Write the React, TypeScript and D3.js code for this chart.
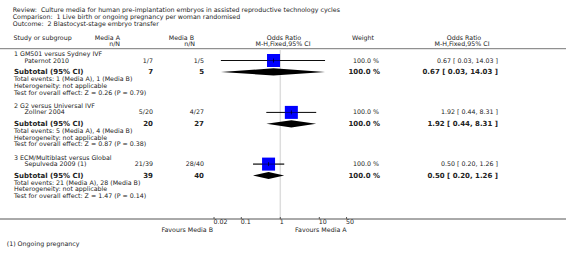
import React from "react";
import * as d3 from "d3";

const headerLines = [
  "Review:  Culture media for human pre-implantation embryos in assisted reproductive technology cycles",
  "Comparison:  1 Live birth or ongoing pregnancy per woman randomised",
  "Outcome:  2 Blastocyst-stage embryo transfer",
];
const groups = ["1 GM501 versus Sydney IVF", "2 G2 versus Universal IVF", "3 ECM/Multiblast versus Global"];
const studies = ["Paternot 2010", "Zollner 2004", "Sepulveda 2009 (1)"];
const eventsA = [1, 5, 21];
const totalA = [7, 20, 39];
const eventsB = [1, 4, 28];
const totalB = [5, 27, 40];
const oddsRatio = [0.67, 1.92, 0.5];
const ciLow = [0.03, 0.44, 0.2];
const ciHigh = [14.03, 8.31, 1.26];
const weights = [100, 100, 100];
const zValues = [0.26, 0.87, 1.47];
const pValues = [0.79, 0.38, 0.14];
const tickValues = [0.02, 0.1, 1, 10, 50];
const tickLabels = ["0.02", "0.1", "1", "10", "50"];
const footnotes = ["(1) Ongoing pregnancy"];

const FONT = "DejaVu Sans, Verdana, sans-serif";
const TXT = "#222";
const FS = 6.3;
const FB = 7.0;

export default function App() {
  const x = d3.scaleLog().domain([0.01, 100]).range([202.3, 358.3]);
  const groupY = [54.3, 106.2, 157.9];
  const xA = 153;
  const xB = 204;
  const xW = 379;
  const xOR = 498;
  const axisY = 219;

  const fmt = (v: number) => v.toFixed(2);

  return (
    <svg width={566} height={261} style={{ position: "absolute", left: 0, top: 0, background: "#fff" }}
      fontFamily={FONT}>
      {headerLines.map((t, i) => (
        <text key={i} x={12.7} y={12 + i * 7} fontSize={FS} fill={TXT} style={{ whiteSpace: "pre" }}>{t}</text>
      ))}
      <text x={13.5} y={40} fontSize={FS} fill={TXT}>Study or subgroup</text>
      <text x={120} y={40} fontSize={FS} fill={TXT} textAnchor="end">Media A</text>
      <text x={120} y={45.7} fontSize={FS} fill={TXT} textAnchor="end">n/N</text>
      <text x={194} y={40} fontSize={FS} fill={TXT} textAnchor="end">Media B</text>
      <text x={195} y={45.7} fontSize={FS} fill={TXT} textAnchor="end">n/N</text>
      <text x={284} y={40} fontSize={FS} fill={TXT} textAnchor="middle">Odds Ratio</text>
      <text x={283} y={45.7} fontSize={FS} fill={TXT} textAnchor="middle">M-H,Fixed,95% CI</text>
      <text x={363} y={40} fontSize={FS} fill={TXT} textAnchor="middle">Weight</text>
      <text x={464} y={40} fontSize={FS} fill={TXT} textAnchor="middle">Odds Ratio</text>
      <text x={462} y={45.7} fontSize={FS} fill={TXT} textAnchor="middle">M-H,Fixed,95% CI</text>
      <line x1={0} x2={566} y1={48.7} y2={48.7} stroke="#777" strokeWidth={1} />

      {/* null line */}
      <line x1={x(1)} x2={x(1)} y1={50} y2={axisY} stroke="#ddd" strokeWidth={1.5} />

      {groups.map((g, i) => {
        const y0 = groupY[i];
        const yStudy = y0 + 6.2;
        const ySub = y0 + 17.6;
        const yTot = y0 + 24.6;
        const yHet = y0 + 31.5;
        const yTest = y0 + 38.2;
        const cx = x(oddsRatio[i]);
        const lo = x(ciLow[i]);
        const hi = x(ciHigh[i]);
        const sq = 13;
        const orStr = `${fmt(oddsRatio[i])} [ ${fmt(ciLow[i])}, ${fmt(ciHigh[i])} ]`;
        return (
          <g key={i}>
            <text x={14} y={y0 + 2} fontSize={FS} fill={TXT}>{g}</text>
            <text x={24.5} y={yStudy + 2} fontSize={FS} fill={TXT}>{studies[i]}</text>
            <text x={xA} y={yStudy + 2} fontSize={FS} fill={TXT} textAnchor="end">{`${eventsA[i]}/${totalA[i]}`}</text>
            <text x={xB} y={yStudy + 2} fontSize={FS} fill={TXT} textAnchor="end">{`${eventsB[i]}/${totalB[i]}`}</text>
            <text x={xW} y={yStudy + 2} fontSize={FS} fill={TXT} textAnchor="end">{`${weights[i].toFixed(1)} %`}</text>
            <text x={xOR} y={yStudy + 2} fontSize={FS} fill={TXT} textAnchor="end">{orStr}</text>
            <line x1={lo} x2={hi} y1={yStudy} y2={yStudy} stroke="#000" strokeWidth={0.9} />
            <rect x={cx - sq / 2} y={yStudy - sq / 2} width={sq} height={sq} fill="#0000ff" />
            <line x1={lo} x2={hi} y1={yStudy} y2={yStudy} stroke="#000" strokeWidth={0.6} opacity={0.8} />
            <line x1={cx} x2={cx} y1={yStudy - 2} y2={yStudy + 2} stroke="#000" strokeWidth={0.7} />

            <text x={14} y={ySub + 2.4} fontSize={FB} fontWeight="bold" fill={TXT}>Subtotal (95% CI)</text>
            <text x={xA} y={ySub + 2.4} fontSize={FB} fontWeight="bold" fill={TXT} textAnchor="end">{totalA[i]}</text>
            <text x={xB} y={ySub + 2.4} fontSize={FB} fontWeight="bold" fill={TXT} textAnchor="end">{totalB[i]}</text>
            <text x={xW + 1} y={ySub + 2.4} fontSize={FB} fontWeight="bold" fill={TXT} textAnchor="end">{`${weights[i].toFixed(1)} %`}</text>
            <text x={xOR} y={ySub + 2.4} fontSize={FB} fontWeight="bold" fill={TXT} textAnchor="end">{orStr}</text>
            <polygon points={`${lo},${ySub} ${cx},${ySub - 3.6} ${hi},${ySub} ${cx},${ySub + 3.6}`} fill="#000" />

            <text x={14} y={yTot + 2.2} fontSize={FS} fill={TXT}>{`Total events: ${eventsA[i]} (Media A), ${eventsB[i]} (Media B)`}</text>
            <text x={14} y={yHet + 2} fontSize={FS} fill={TXT}>Heterogeneity: not applicable</text>
            <text x={14} y={yTest + 2} fontSize={FS} fill={TXT}>{`Test for overall effect: Z = ${zValues[i].toFixed(2)} (P = ${pValues[i].toFixed(2)})`}</text>
          </g>
        );
      })}

      {/* axis */}
      <line x1={0} x2={566} y1={axisY} y2={axisY} stroke="#555" strokeWidth={1} />
      {tickValues.map((t, i) => (
        <g key={i}>
          <line x1={x(t)} x2={x(t)} y1={axisY - 2} y2={axisY} stroke="#555" strokeWidth={1} />
          <text x={x(t) - 0.5} y={axisY + 5.3} fontSize={FS} fill={TXT}>{tickLabels[i]}</text>
        </g>
      ))}
      <text x={213} y={231.5} fontSize={FS} fill={TXT} textAnchor="end">Favours Media B</text>
      <text x={295} y={231.5} fontSize={FS} fill={TXT}>Favours Media A</text>

      {footnotes.map((f, i) => (
        <text key={i} x={6.7} y={245.8 + i * 7} fontSize={FS} fill={TXT}>{f}</text>
      ))}
    </svg>
  );
}
